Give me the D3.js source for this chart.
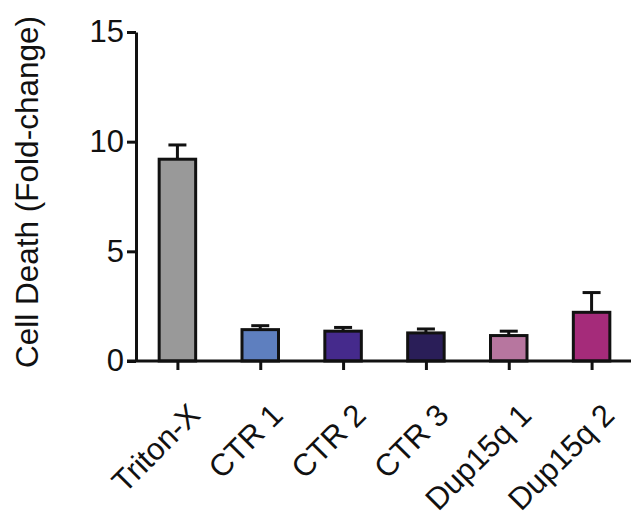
<!DOCTYPE html>
<html>
<head>
<meta charset="utf-8">
<script src="https://cdn.jsdelivr.net/npm/d3@7"></script>
<style>
  html, body { margin: 0; padding: 0; background: #ffffff; }
  svg { display: block; font-family: "Liberation Sans", Arial, Helvetica, sans-serif; }
</style>
</head>
<body>
<svg id="chart" width="631" height="517"></svg>
<script>
const categories = ["Triton-X", "CTR 1", "CTR 2", "CTR 3", "Dup15q 1", "Dup15q 2"];
const means = [9.2, 1.43, 1.36, 1.28, 1.16, 2.22];
const errors = [0.65, 0.18, 0.17, 0.18, 0.2, 0.9];
const colors = ["#999999", "#5e7fbf", "#452a8c", "#2a1e58", "#b7769f", "#a52b7a"];
const yTicks = [0, 5, 10, 15];
const yTitle = "Cell Death (Fold-change)";

const svg = d3.select("#chart");
const mLeft = 136, mRight = 633, mTop = 32, mBottom = 361;

const x = d3.scalePoint().domain(categories).range([mLeft, mRight]).padding(0.5);
const y = d3.scaleLinear().domain([0, 15]).range([mBottom, mTop]);

const barW = 36.5;
const capW = 18;
const sw = 3;

const data = categories.map((c, i) => ({ c, m: means[i], e: errors[i], col: colors[i] }));

// error bars (upper only), drawn under the bars
const eb = svg.append("g");
eb.selectAll("line.v").data(data).join("line")
  .attr("class", "v")
  .attr("x1", d => x(d.c)).attr("x2", d => x(d.c))
  .attr("y1", d => y(d.m)).attr("y2", d => y(d.m + d.e))
  .attr("stroke", "#111").attr("stroke-width", sw);
eb.selectAll("line.c").data(data).join("line")
  .attr("class", "c")
  .attr("x1", d => x(d.c) - capW / 2).attr("x2", d => x(d.c) + capW / 2)
  .attr("y1", d => y(d.m + d.e)).attr("y2", d => y(d.m + d.e))
  .attr("stroke", "#111").attr("stroke-width", sw);

svg.append("g").selectAll("rect").data(data).join("rect")
  .attr("x", d => x(d.c) - barW / 2)
  .attr("width", barW)
  .attr("y", d => y(d.m))
  .attr("height", d => y(0) - y(d.m))
  .attr("fill", d => d.col)
  .attr("stroke", "#111")
  .attr("stroke-width", sw);

// y axis
const yAxis = svg.append("g")
  .attr("transform", `translate(${mLeft},0)`)
  .call(d3.axisLeft(y).tickValues(yTicks).tickSize(9).tickSizeOuter(0).tickPadding(3));
yAxis.select(".domain").attr("stroke", "#111").attr("stroke-width", sw);
yAxis.selectAll(".tick line").attr("stroke", "#111").attr("stroke-width", sw);
yAxis.selectAll(".tick text")
  .attr("font-size", 31).attr("fill", "#111")
  .attr("font-family", "Liberation Sans, Arial, sans-serif");

// x axis
const xAxis = svg.append("g")
  .attr("transform", `translate(0,${mBottom})`)
  .call(d3.axisBottom(x).tickSize(9).tickSizeOuter(0));
xAxis.select(".domain").remove();
xAxis.append("line")
  .attr("x1", mLeft - 9).attr("x2", 631)
  .attr("y1", 0).attr("y2", 0)
  .attr("stroke", "#111").attr("stroke-width", sw);
xAxis.selectAll(".tick line").attr("stroke", "#111").attr("stroke-width", sw);
xAxis.selectAll(".tick text")
  .attr("font-size", 31).attr("fill", "#111")
  .attr("font-family", "Liberation Sans, Arial, sans-serif")
  .attr("x", 0).attr("y", 0).attr("dy", 0)
  .attr("text-anchor", "end")
  .attr("transform", "translate(24,56) rotate(-45)");

// y title
svg.append("text")
  .attr("transform", `translate(38,192) rotate(-90)`)
  .attr("text-anchor", "middle")
  .attr("font-size", 31.5)
  .attr("fill", "#111")
  .text(yTitle);
</script>
</body>
</html>
